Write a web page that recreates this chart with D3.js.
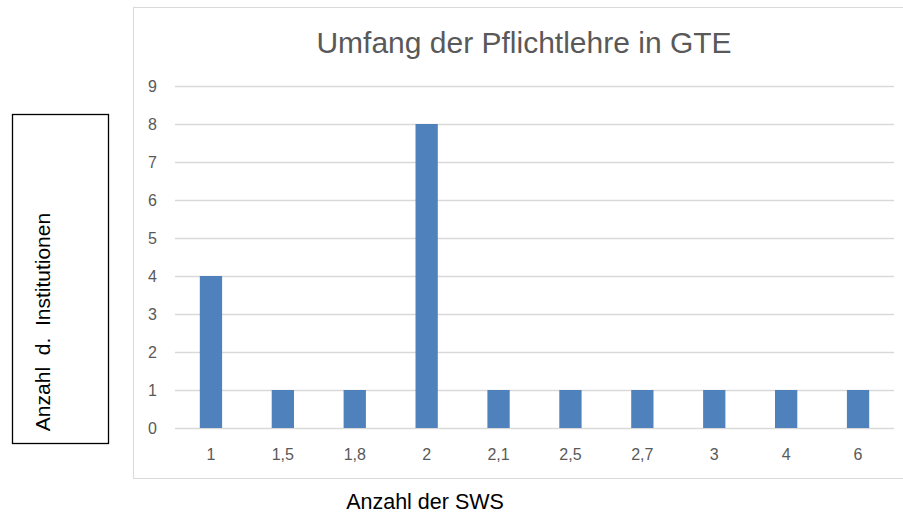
<!DOCTYPE html>
<html>
<head>
<meta charset="utf-8">
<script src="https://cdn.jsdelivr.net/npm/d3@7"></script>
<style>
  body { margin: 0; background: #fff; }
  svg { display: block; }
</style>
</head>
<body>
<svg id="chart" width="903" height="515" viewBox="0 0 903 515"></svg>
<script>
// --- Data ---
const categories = ["1", "1,5", "1,8", "2", "2,1", "2,5", "2,7", "3", "4", "6"];
const counts = [4, 1, 1, 8, 1, 1, 1, 1, 1, 1];
const yTicks = [0, 1, 2, 3, 4, 5, 6, 7, 8, 9];

const svg = d3.select("#chart");
const fontFam = "'Liberation Sans', Arial, sans-serif";

// chart frame (right edge runs off the picture)
svg.append("rect")
    .attr("x", 133.5).attr("y", 7.5)
    .attr("width", 790).attr("height", 471)
    .style("fill", "#fff").style("stroke", "#d9d9d9").style("stroke-width", 1);

const plot = { left: 175, right: 894, top: 86, bottom: 428 };

const x = d3.scaleBand()
    .domain(categories)
    .range([plot.left, plot.right])
    .paddingInner(0.69).paddingOuter(0.345);

const y = d3.scaleLinear()
    .domain([0, 9])
    .range([plot.bottom, plot.top]);

// gridlines
svg.append("g")
    .selectAll("line")
    .data(yTicks)
    .join("line")
    .attr("x1", plot.left).attr("x2", plot.right)
    .attr("y1", d => Math.round(y(d)) + 0.5).attr("y2", d => Math.round(y(d)) + 0.5)
    .style("stroke", "#d9d9d9").style("stroke-width", 1.3);

// bars
svg.append("g")
    .selectAll("rect")
    .data(counts)
    .join("rect")
    .attr("x", (d, i) => x(categories[i]))
    .attr("y", d => y(d))
    .attr("width", x.bandwidth())
    .attr("height", d => y(0) - y(d))
    .style("fill", "#4f81bd");

// y tick labels
svg.append("g")
    .selectAll("text")
    .data(yTicks)
    .join("text")
    .attr("x", 157)
    .attr("y", d => y(d))
    .attr("dy", "0.35em")
    .attr("text-anchor", "end")
    .style("font-family", fontFam).style("font-size", "16px").style("fill", "#595959")
    .text(d => d);

// x tick labels
svg.append("g")
    .selectAll("text")
    .data(categories)
    .join("text")
    .attr("x", d => x(d) + x.bandwidth() / 2)
    .attr("y", 454)
    .attr("dy", "0.35em")
    .attr("text-anchor", "middle")
    .style("font-family", fontFam).style("font-size", "16px").style("fill", "#595959")
    .text(d => d);

// title
svg.append("text")
    .attr("x", 524).attr("y", 53)
    .attr("text-anchor", "middle")
    .style("font-family", fontFam).style("font-size", "30px").style("fill", "#595959")
    .text("Umfang der Pflichtlehre in GTE");

// x axis title
svg.append("text")
    .attr("x", 425).attr("y", 509)
    .attr("text-anchor", "middle")
    .style("font-family", fontFam).style("font-size", "21.5px").style("fill", "#000")
    .text("Anzahl der SWS");

// y axis title in a box
svg.append("rect")
    .attr("x", 12.5).attr("y", 114.5)
    .attr("width", 96).attr("height", 329)
    .style("fill", "none").style("stroke", "#000").style("stroke-width", 1.3);

svg.append("text")
    .attr("transform", "translate(50,322) rotate(-90)")
    .attr("text-anchor", "middle")
    .style("font-family", fontFam).style("font-size", "21px").style("fill", "#000")
    .style("white-space", "pre")
    .text("Anzahl  d.  Institutionen");
</script>
</body>
</html>
